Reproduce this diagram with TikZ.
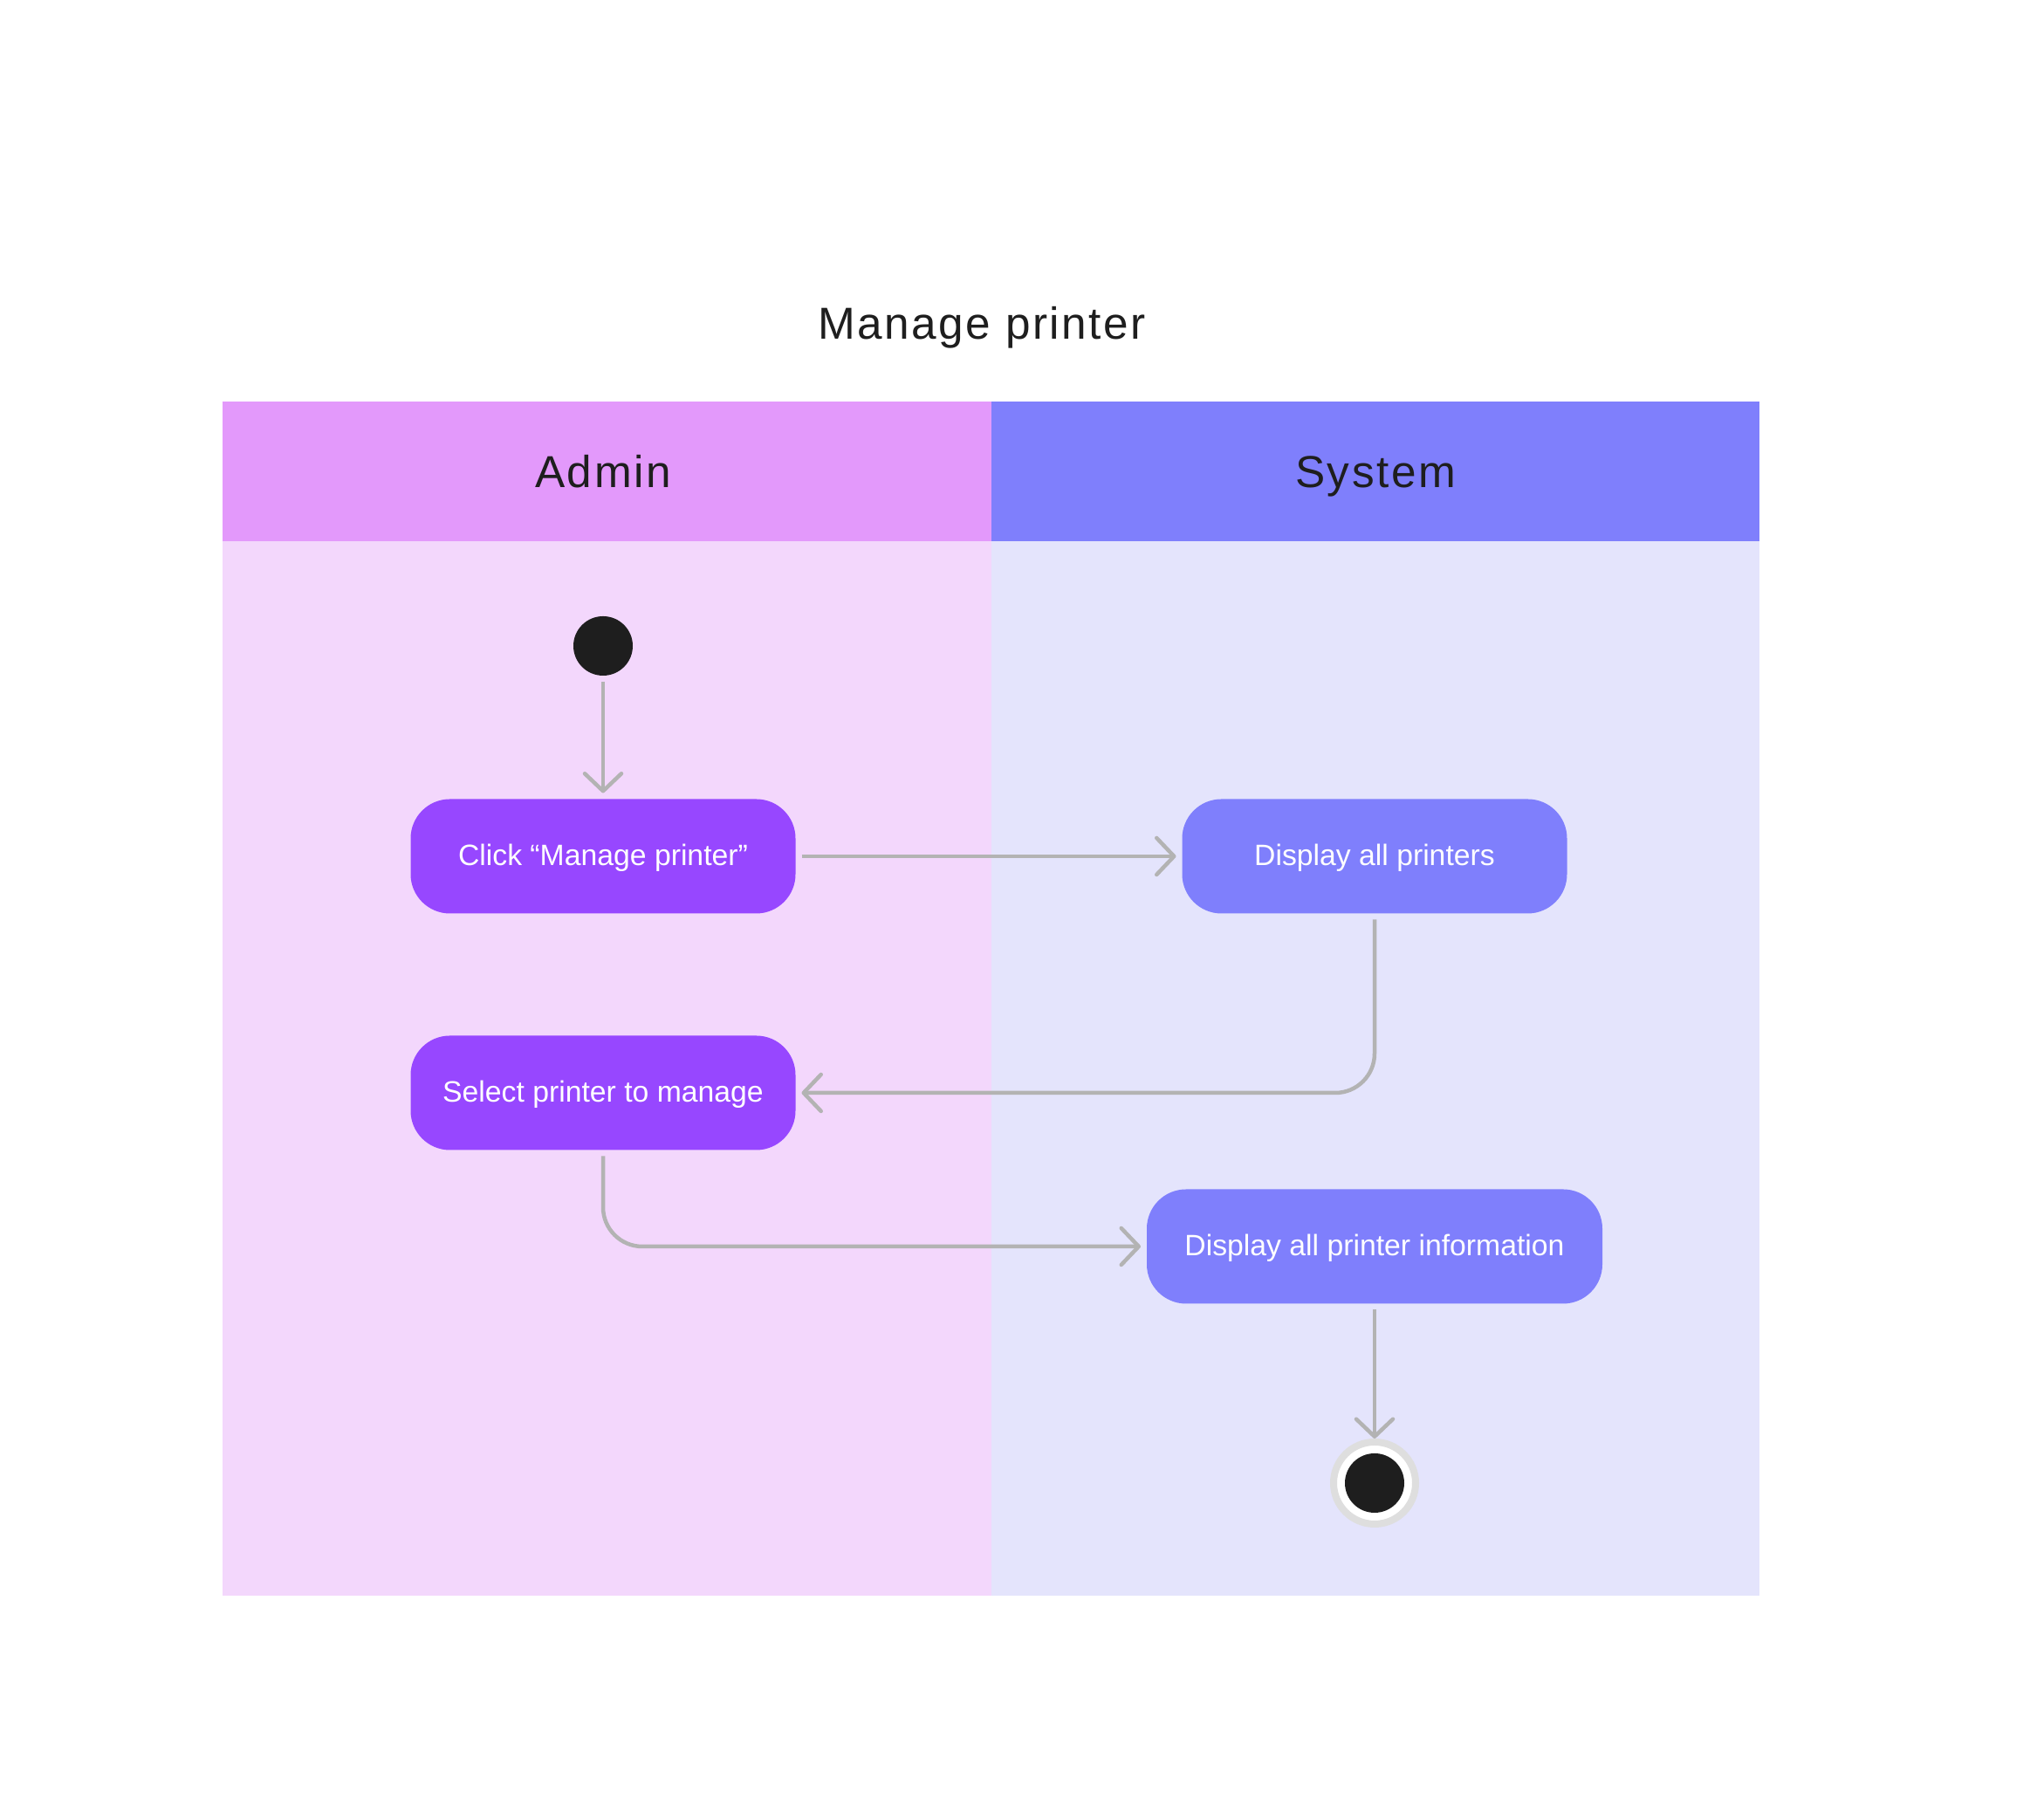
\documentclass[tikz,border=0pt]{standalone}
\usepackage{fontspec}
\setmainfont{Liberation Sans}
\newfontfamily\headfont[LetterSpace=5]{Liberation Sans}
\usetikzlibrary{arrows.meta}
\definecolor{adminhead}{HTML}{E399FB}
\definecolor{adminbody}{HTML}{F3D7FC}
\definecolor{syshead}{HTML}{7F7FFC}
\definecolor{sysbody}{HTML}{E4E4FC}
\definecolor{adminbox}{HTML}{9747FF}
\definecolor{sysbox}{HTML}{7F7FFC}
\definecolor{flowgray}{HTML}{B3B3B3}
\definecolor{dot}{HTML}{1E1E1E}

\begin{document}
\begin{tikzpicture}[
    action/.style={rounded corners=0.45cm, minimum height=1.31cm, text=white,
        font=\fontsize{9.6}{11}\selectfont, text height=0.22cm, text depth=0cm, outer sep=0.07cm},
    lanehead/.style={font=\headfont\fontsize{14.6}{17}\selectfont, text=dot, anchor=base},
    flow/.style={draw=flowgray, line width=0.045cm, rounded corners=0.45cm,
        -{Straight Barb[length=0.2cm,width=0.42cm,line cap=round,line join=round]}}
]
    \useasboundingbox[fill=white] (0,0) rectangle (23.26,20.85);
    % corsie
    \fill[adminbody] (2.55,2.57) rectangle (11.36,14.65);
    \fill[sysbody] (11.36,2.57) rectangle (20.16,14.65);
    \fill[adminhead] (2.55,14.65) rectangle (11.36,16.25);
    \fill[syshead] (11.36,14.65) rectangle (20.16,16.25);
    % titoli
    \node[font=\headfont\fontsize{14.6}{17}\selectfont, text=dot, anchor=base] (title) at (11.25,16.96) {Manage printer};
    \node[lanehead] (admin) at (6.91,15.26) {Admin};
    \node[lanehead] (system) at (15.76,15.26) {System};
    % nodi
    \node[circle, fill=dot, minimum size=0.68cm, inner sep=0pt, outer sep=0.07cm] (start) at (6.91,13.45) {};
    \node[action, fill=adminbox, minimum width=4.41cm] (click) at (6.91,11.04) {Click “Manage printer”};
    \node[action, fill=sysbox, minimum width=4.41cm] (showall) at (15.75,11.04) {Display all printers};
    \node[action, fill=adminbox, minimum width=4.41cm] (select) at (6.91,8.33) {Select printer to manage};
    \node[action, fill=sysbox, minimum width=5.22cm] (showinfo) at (15.75,6.57) {Display all printer information};
    \node[circle, fill=white, draw=black!13, line width=0.08cm, minimum size=0.94cm, inner sep=0pt] (stop) at (15.75,3.86) {};
    \fill[dot] (stop.center) circle (0.34);
    % frecce
    \draw[flow] (start) -- (click);
    \draw[flow] (click) -- (showall);
    \draw[flow] (showall.south) |- (select.east);
    \draw[flow] (select.south) |- (showinfo.west);
    \draw[flow] (showinfo) -- (stop);
\end{tikzpicture}
\end{document}
